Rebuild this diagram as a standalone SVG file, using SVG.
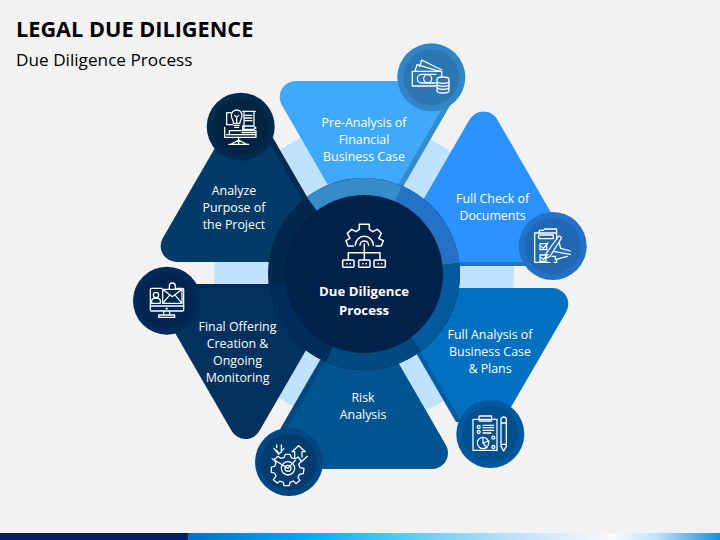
<svg xmlns="http://www.w3.org/2000/svg" width="720" height="540" viewBox="0 0 720 540">
<style>
.tri{stroke-width:32;stroke-linejoin:round}
.ic{fill:none;stroke:#fff;stroke-width:3.8;stroke-linecap:round;stroke-linejoin:round}
text{font-family:"Open Sans","Noto Sans",sans-serif;fill:#fff;text-anchor:middle}
.lb{font-size:12.4px}
.ct{font-size:13.2px;font-weight:700}
</style>
<defs>
<linearGradient id="bar" x1="0" x2="1" y1="0" y2="0">
<stop offset="0" stop-color="#0070C0"/><stop offset="0.23" stop-color="#00B0F0"/><stop offset="0.45" stop-color="#6FD0F4"/><stop offset="0.62" stop-color="#BFE3FB"/><stop offset="0.8" stop-color="#F8FAFC"/><stop offset="0.88" stop-color="#BFE3FB"/><stop offset="1" stop-color="#1A8FDA"/>
</linearGradient>
</defs>
<rect width="720" height="540" fill="#F2F2F2"/>
<rect x="0" y="533" width="188" height="7" fill="#002060"/>
<rect x="188" y="533" width="532" height="7" fill="url(#bar)"/>
<text x="16" y="36.500" style="font-size:21.700px;font-weight:700;text-anchor:start;fill:#000">LEGAL DUE DILIGENCE</text>
<text x="16" y="65.500" style="font-size:17.200px;text-anchor:start;fill:#000">Due Diligence Process</text>
<circle cx="364" cy="274" r="150" fill="#BFE3FF"/>

<g id="node-pre-analysis">
<polygon class="tri" fill="#3FA9FF" stroke="#3FA9FF" points="295.700,97 436.300,97 366,219"/>
<polygon fill="#368CC9" points="453,100 401,190 395,190 447,100"/>
<circle cx="431.300" cy="77.300" r="34" fill="#2F86C6"/><circle cx="431.300" cy="77.300" r="28" fill="#2C77B2"/>
<g class="ic" transform="translate(405,50) scale(.3333)">
<path d="M30,64 L36,44 L104,64 M44,50 L50,30 L110,60"/>
<path d="M95,108 H22 V64 H110 M110,64 V78"/>
<path d="M50,73 H92 M92,99 H50 a13,13 0 0 1 0,-26"/>
<circle cx="68" cy="86" r="12"/>
<path d="M96,88 a18,7 0 0 1 36,0 v34 a18,7 0 0 1 -36,0 z M96,94 a18,6 0 0 0 36,0 M96,103 a18,6 0 0 0 36,0 M96,112 a18,6 0 0 0 36,0"/>
</g>
<text class="lb" x="364" y="126.500">Pre-Analysis of</text><text class="lb" x="364" y="143.500">Financial</text><text class="lb" x="364" y="160.500">Business Case</text>
</g>

<g id="node-full-check">
<polygon class="tri" fill="#2B93FF" stroke="#2B93FF" points="483.400,127.500 412.700,250 554.100,250"/>
<rect x="400" y="262" width="140" height="4" fill="#2472C8"/>
<circle cx="552.700" cy="246" r="34" fill="#2472C8"/><circle cx="552.700" cy="246" r="28" fill="#2068B4"/>
<g class="ic" transform="translate(526,219) scale(.3333)">
<path d="M26,42 V130 H72 M26,42 H40 V34 H52 L56,30 H92 V62 M40,42 H92 M92,122 V130 H84"/>
<rect x="38" y="48" width="44" height="11" rx="2"/>
<path d="M42,74 H62 V92 H42 Z M42,108 H60 V127 H42 Z M46,82 L52,88 L66,72 M46,116 L52,122 L66,106"/>
<path d="M60,104 L96,54 a5,5 0 0 1 9,6 L72,112 L58,118 Z"/>
<path d="M100,72 L104,88 L133,96 M86,98 L133,106 M78,112 H88 V122 L124,112"/>
</g>
<text class="lb" x="492.600" y="202.500">Full Check of</text><text class="lb" x="492.600" y="219.500">Documents</text>
</g>

<g id="node-full-analysis">
<polygon class="tri" fill="#0070C0" stroke="#0070C0" points="412.200,304 552.300,304 482,425.300"/>
<polygon fill="#005DA8" points="414,339 462,422 456,422 408,339"/>
<circle cx="490.300" cy="434" r="34" fill="#00599E"/><circle cx="490.300" cy="434" r="28" fill="#00508F"/>
<g class="ic" transform="translate(463,407) scale(.3333)">
<rect x="30" y="37" width="72" height="93"/>
<rect x="48" y="27" width="38" height="15" rx="2"/>
<circle cx="47" cy="60" r="4.500"/><circle cx="47" cy="75" r="4.500"/>
<path d="M60,55 H92 M60,62 H92 M60,70 H92 M60,78 H84"/>
<circle cx="60" cy="108" r="17"/><path d="M60,108 V91 M60,108 L78,102 M60,108 L72,122"/>
<circle cx="91" cy="92" r="4.500"/><circle cx="91" cy="120" r="4.500"/>
<path d="M114,38 a8,8 0 0 1 16,0 V118 L122,132 L114,118 Z M114,48 H130 M114,112 H130"/>
</g>
<text class="lb" x="490" y="338.500">Full Analysis of</text><text class="lb" x="490" y="355.500">Business Case</text><text class="lb" x="490" y="372.500">&amp; Plans</text>
</g>

<g id="node-risk">
<polygon class="tri" fill="#00548F" stroke="#00548F" points="290,453 432,453 361,330"/>
<polygon fill="#00487F" points="326,360 285,431 279,431 320,360"/>
<circle cx="289" cy="462" r="34" fill="#004680"/><circle cx="289" cy="462" r="28" fill="#003C6E"/>
<g class="ic" transform="translate(262,435) scale(.3333)">
<circle cx="78" cy="100" r="20"/><circle cx="78" cy="100" r="9"/>
<path d="M70,58 L84,58 L88,68 L98,72 L108,66 L118,78 L110,88 L114,98 L126,100 L124,116 L112,118 L108,128 L114,136 L102,146 L94,138 L84,142 L82,152 L66,152 L64,142 L54,138 L46,144 L34,134 L42,124 L38,114 L28,112 L28,96 L38,94 L42,84 L36,74 L48,64 L56,70 L66,68 Z"/>
<path d="M44,30 V38 M58,30 V52 M44,46 L51,56 M36,40 L50,58 L66,40 M32,72 L78,100 M78,100 L100,76 M30,70 h.1"/>
<path d="M98,70 V50 H90 L110,32 L130,50 H120 V66 M118,80 L136,64 M136,64 h.1"/>
</g>
<text class="lb" x="363" y="401.500">Risk</text><text class="lb" x="363" y="418.500">Analysis</text>
</g>

<g id="node-final-offering">
<polygon class="tri" fill="#00315F" stroke="#00315F" points="174.500,300 316.500,300 245.500,423"/>
<rect x="175" y="284" width="125" height="4" fill="#002B55"/>
<circle cx="167" cy="300.700" r="34" fill="#002B58"/><circle cx="167" cy="300.700" r="28" fill="#00264F"/>
<g class="ic" transform="translate(140,274) scale(.3333)">
<path d="M66,43 H34 a3,3 0 0 0 -3,3 V108 a3,3 0 0 0 3,3 H128 a3,3 0 0 0 3,-3 V46 a3,3 0 0 0 -3,-3 H110"/>
<path d="M31,96 H131 M72,112 L70,122 M88,112 L90,122 M56,130 V123 H104 V130 Z"/>
<circle cx="48" cy="63" r="8"/><path d="M35,88 V80 a8,8 0 0 1 8,-7 H53 a8,8 0 0 1 8,7 V88 Z"/>
<path d="M68,46 H126 V88 H68 Z M68,46 L97,68 L126,46 M68,88 L90,62 M126,88 L104,62"/>
<path d="M88,46 V36 a9,9 0 0 1 18,0 V46"/><circle cx="80" cy="104" r="1.500"/>
</g>
<text class="lb" x="237.500" y="330.500">Final Offering</text><text class="lb" x="237.500" y="347.500">Creation &amp;</text><text class="lb" x="237.500" y="364.500">Ongoing</text><text class="lb" x="237.500" y="381.500">Monitoring</text>
</g>

<g id="node-analyze">
<polygon class="tri" fill="#003A66" stroke="#003A66" points="176.700,246 316.800,246 246.700,125"/>
<polygon fill="#002B50" points="273,138 311,204 305,204 267,138"/>
<circle cx="240.700" cy="126.700" r="34" fill="#002A4E"/><circle cx="240.700" cy="126.700" r="28" fill="#002441"/>
<g class="ic" transform="translate(214,100) scale(.3333)">
<path d="M58,70 C58,58 52,58 52,46 a16,16 0 0 1 32,0 C84,58 78,58 78,70 Z M60,76 H76 M62,82 H74 M68,70 V52 M62,46 L68,52 L74,46"/>
<path d="M40,38 H50 M38,38 V74 H56 M86,34 H124 M90,34 V86 M120,34 V76 M94,46 H114 M94,54 H114 M94,62 H114"/>
<path d="M86,78 H118 L126,84 L118,88 H86 Z"/>
<path d="M32,82 V112 H126 V104 H38 M46,92 H126 V104 H46 Z M84,98 H122"/>
<path d="M74,112 V120 M52,132 L74,120 L96,132 M44,133 H104 M74,120 V130"/>
</g>
<text class="lb" x="234" y="194.500">Analyze</text><text class="lb" x="234" y="211.500">Purpose of</text><text class="lb" x="234" y="228.500">the Project</text>
</g>

<g id="node-center">
<circle cx="364" cy="274" r="96" fill="#00284A"/>
<path d="M364,274 L306.700,197 A96,96 0 0 1 402.300,186 Z" fill="#368CC9"/>
<path d="M364,274 L402.300,186 A96,96 0 0 1 459.400,263.100 Z" fill="#2472C8"/>
<path d="M364,274 L459.400,263.100 A96,96 0 0 1 421.100,351.200 Z" fill="#005A9E"/>
<path d="M364,274 L421.100,351.200 A96,96 0 0 1 325.700,362 Z" fill="#004A80"/>
<path d="M364,274 L325.700,362 A96,96 0 0 1 268.600,284.900 Z" fill="#002C5A"/>
<circle cx="364" cy="274" r="79" fill="#00224A"/>
<g class="ic" style="stroke-width:4.500" transform="translate(320,210) scale(.3333)">
<path d="M100,108 L84,108 L78,92 L90,85 L82,70 L95,58 L108,65 L118,58 L118,43 L148,43 L148,58 L158,65 L172,58 L184,70 L176,85 L190,92 L184,108 L168,108"/>
<path d="M106,106 a27,27 0 0 1 54,0 M120,106 a13,13 0 0 1 26,0"/>
<path d="M133,102 V150 M85,150 V128 H180 V150"/>
<rect x="68" y="150" width="34" height="22" rx="3"/><rect x="116" y="150" width="34" height="22" rx="3"/><rect x="162" y="150" width="34" height="22" rx="3"/>
<path d="M80,161 h1 M90,161 h1 M128,161 h1 M138,161 h1 M174,161 h1 M184,161 h1"/>
</g>
<text class="ct" x="364" y="295.500">Due Diligence</text><text class="ct" x="364" y="315">Process</text>
</g>
<g id="connectors"/>
</svg>
